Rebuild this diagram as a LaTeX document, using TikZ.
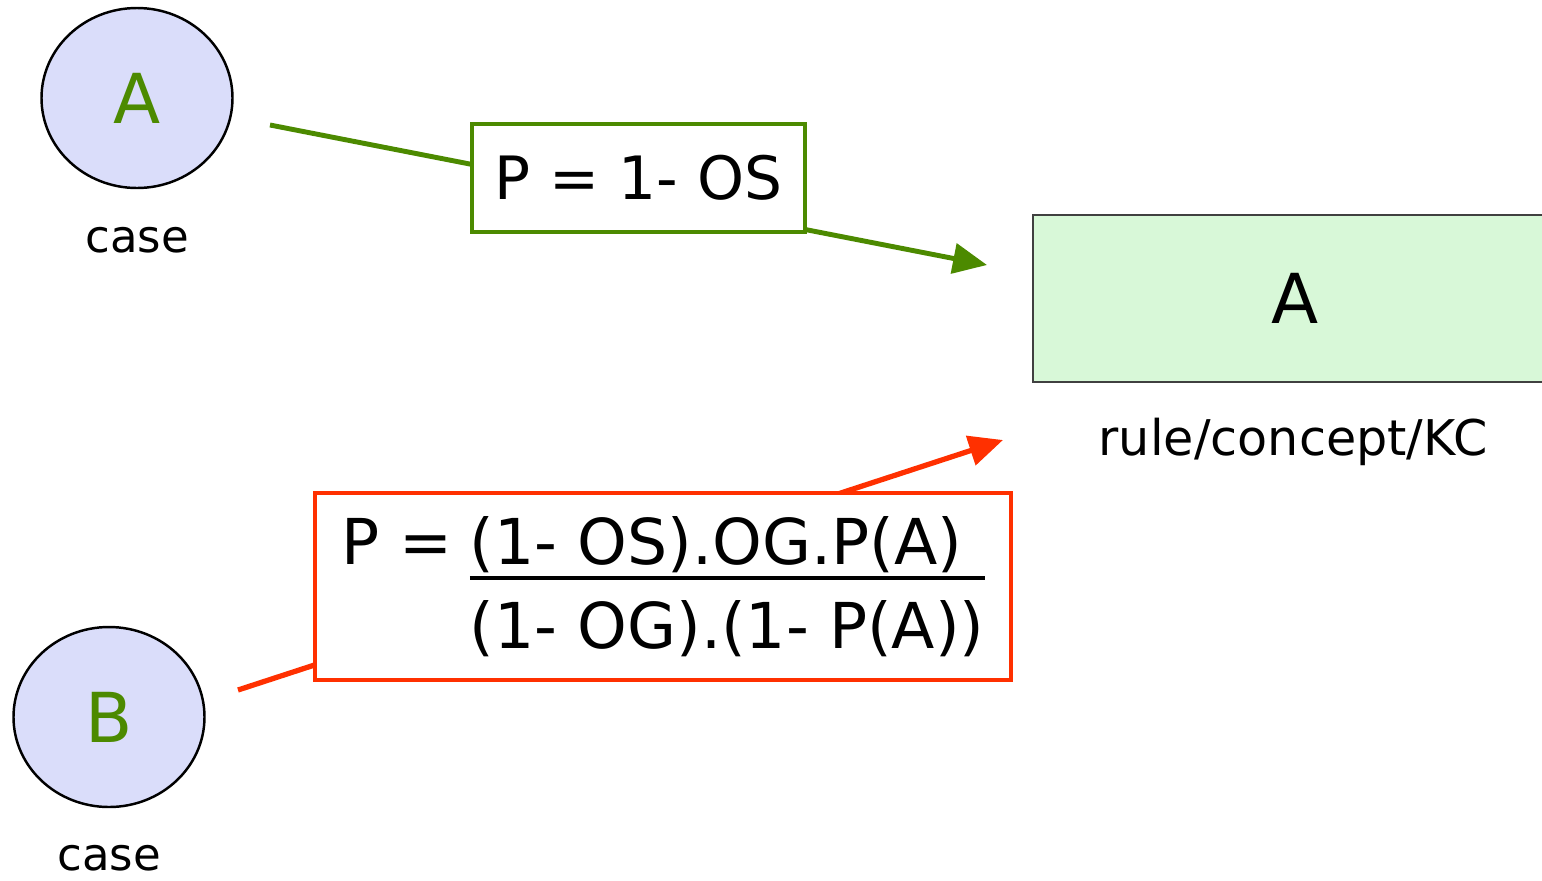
\documentclass[tikz,border=0pt]{standalone}
\usepackage{fontspec}
\setmainfont{DejaVu Sans}
\usetikzlibrary{shapes.geometric,positioning,arrows.meta}
\definecolor{caseblue}{HTML}{DADDFA}
\definecolor{letgreen}{HTML}{4C8A00}
\definecolor{kcgreen}{HTML}{D8F8D8}
\definecolor{probred}{HTML}{FF3000}
\setlength{\arrayrulewidth}{0.9pt}
\begin{document}
\begin{tikzpicture}[
  case node/.style={ellipse,draw=black,line width=0.7pt,fill=caseblue,minimum width=1.91cm,minimum height=1.80cm,inner sep=0pt,text=letgreen,font=\fontsize{19.6}{22}\selectfont},
  kc node/.style={rectangle,draw=black!75,line width=0.8pt,fill=kcgreen,minimum width=5.24cm,minimum height=1.67cm,font=\fontsize{19.6}{22}\selectfont},
  caption/.style={font=\fontsize{12.8}{15}\selectfont},
  prob box/.style={rectangle,fill=white,line width=1.4pt,inner sep=0pt},
  green arrow/.style={draw=letgreen,line width=1.4pt,-{Triangle[length=0.34cm,width=0.30cm]}},
  red arrow/.style={draw=probred,line width=1.5pt,-{Triangle[length=0.34cm,width=0.30cm]}}]

  \useasboundingbox (0,0) rectangle (15.42,-8.80);

  % cases and the rule
  \node[case node] (caseA) at (1.37,-0.98) {A};
  \node[caption] (caseAlabel) at (1.37,-2.40) {case};
  \node[case node] (caseB) at (1.09,-7.17) {B};
  \node[caption] (caseBlabel) at (1.09,-8.58) {case};
  \node[kc node] (kc) at (12.95,-2.985) {A};
  \node[caption,font=\fontsize{14}{16}\selectfont] (kclabel) at (12.93,-4.42) {rule/concept/KC};

  % arrow ends
  \coordinate (gstart) at (2.70,-1.25);
  \coordinate (gend) at (9.87,-2.65);
  \coordinate (rstart) at (2.38,-6.90);
  \coordinate (rend) at (10.03,-4.40);

  \draw[green arrow] (gstart) -- (gend);
  \draw[red arrow] (rstart) -- (rend);

  % probabilities
  \node[prob box,draw=letgreen,minimum width=3.33cm,minimum height=1.08cm,font=\fontsize{17}{20}\selectfont] (pslip) at (6.385,-1.78) {P = 1- OS};
  \node[prob box,draw=probred,minimum width=6.96cm,minimum height=1.87cm,font=\fontsize{18}{22}\selectfont] (pguess) at (6.63,-5.865)
    {P =\hspace{0.27em}{\renewcommand\arraystretch{0}\begin{tabular}[t]{@{}l@{}}(1- OS).OG.P(A)\rule[-3.4pt]{0pt}{0pt}\\\hline\rule{0pt}{19.5pt}(1- OG).(1- P(A))\end{tabular}}};

\end{tikzpicture}
\end{document}
